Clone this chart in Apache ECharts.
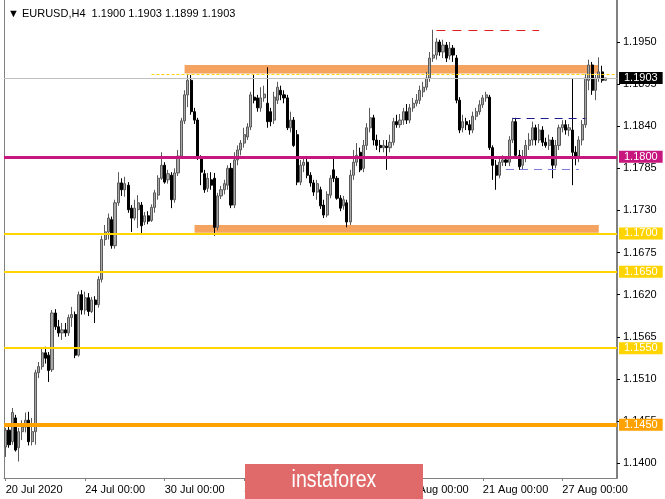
<!DOCTYPE html>
<html>
<head>
<meta charset="utf-8">
<script src="https://cdn.jsdelivr.net/npm/echarts@6/dist/echarts.min.js"></script>
<style>
  html, body { margin: 0; padding: 0; background: #fff; }
  #main { width: 665px; height: 499px; }
</style>
</head>
<body>
<div id="main"></div>
<script>
// EURUSD H4, 20 Jul - 28 Aug 2020
const opens = [
  1.1421,1.1443,1.1428,1.1459,1.1420,1.1441,1.1447,1.1456,1.1428,1.1441,
  1.1518,1.1526,1.1544,1.1541,1.1522,1.1596,1.1578,1.1570,1.1574,1.1570,
  1.1590,1.1594,1.1541,1.1620,1.1600,1.1616,1.1598,1.1613,1.1607,1.1640,
  1.1692,1.1702,1.1718,1.1684,1.1740,1.1766,1.1757,1.1763,1.1733,1.1720,
  1.1731,1.1737,1.1715,1.1723,1.1717,1.1734,1.1750,1.1772,1.1789,1.1770,
  1.1776,1.1744,1.1779,1.1801,1.1847,1.1881,1.1900,1.1859,1.1848,1.1800,
  1.1778,1.1759,1.1770,1.1772,1.1708,1.1749,1.1757,1.1763,1.1785,1.1737,
  1.1796,1.1809,1.1818,1.1826,1.1839,1.1878,1.1877,1.1864,1.1877,1.1870,
  1.1859,1.1848,1.1874,1.1887,1.1881,1.1877,1.1838,1.1848,1.1829,1.1767,
  1.1789,1.1793,1.1776,1.1766,1.1754,1.1757,1.1737,1.1724,1.1750,1.1783,
  1.1772,1.1746,1.1736,1.1740,1.1715,1.1776,1.1793,1.1806,1.1785,1.1815,
  1.1838,1.1851,1.1822,1.1815,1.1812,1.1814,1.1812,1.1819,1.1846,1.1842,
  1.1848,1.1859,1.1848,1.1864,1.1870,1.1874,1.1885,1.1891,1.1903,1.1929,
  1.1933,1.1950,1.1937,1.1946,1.1932,1.1942,1.1929,1.1874,1.1838,1.1846,
  1.1842,1.1835,1.1853,1.1859,1.1868,1.1877,1.1878,1.1812,1.1789,1.1776,
  1.1793,1.1796,1.1793,1.1822,1.1846,1.1802,1.1789,1.1798,1.1815,1.1822,
  1.1838,1.1822,1.1835,1.1819,1.1815,1.1822,1.1789,1.1815,1.1838,1.1842,
  1.1835,1.1835,1.1806,1.1798,1.1822,1.1842,1.1900,1.1920,1.1887,1.1903,
  1.1911,1.1900
];
const closes = [
  1.1443,1.1424,1.1466,1.1417,1.1441,1.1447,1.1456,1.1428,1.1441,1.1518,
  1.1526,1.1544,1.1537,1.1521,1.1596,1.1578,1.1570,1.1574,1.1570,1.1590,
  1.1594,1.1541,1.1620,1.1600,1.1616,1.1598,1.1613,1.1607,1.1640,1.1692,
  1.1702,1.1720,1.1684,1.1740,1.1766,1.1757,1.1765,1.1731,1.1720,1.1733,
  1.1740,1.1710,1.1723,1.1716,1.1734,1.1753,1.1772,1.1789,1.1767,1.1778,
  1.1744,1.1779,1.1801,1.1847,1.1881,1.1900,1.1859,1.1848,1.1800,1.1780,
  1.1757,1.1772,1.1763,1.1708,1.1749,1.1757,1.1765,1.1785,1.1737,1.1796,
  1.1809,1.1818,1.1829,1.1839,1.1881,1.1874,1.1864,1.1877,1.1882,1.1846,
  1.1846,1.1878,1.1891,1.1881,1.1877,1.1838,1.1848,1.1815,1.1767,1.1789,
  1.1793,1.1776,1.1766,1.1754,1.1765,1.1736,1.1724,1.1751,1.1772,1.1772,
  1.1746,1.1733,1.1744,1.1715,1.1776,1.1793,1.1802,1.1783,1.1815,1.1838,
  1.1851,1.1822,1.1815,1.1812,1.1815,1.1812,1.1819,1.1846,1.1842,1.1848,
  1.1859,1.1848,1.1864,1.1870,1.1874,1.1887,1.1891,1.1903,1.1929,1.1933,
  1.1950,1.1937,1.1946,1.1929,1.1942,1.1933,1.1874,1.1835,1.1846,1.1842,
  1.1835,1.1853,1.1859,1.1868,1.1877,1.1881,1.1812,1.1789,1.1776,1.1793,
  1.1796,1.1793,1.1822,1.1846,1.1802,1.1787,1.1798,1.1815,1.1822,1.1838,
  1.1822,1.1835,1.1819,1.1815,1.1822,1.1789,1.1815,1.1838,1.1842,1.1835,
  1.1838,1.1806,1.1798,1.1822,1.1842,1.1903,1.1920,1.1887,1.1903,1.1911,
  1.1900,1.1903
];
const lows = [
  1.1408,1.1420,1.1424,1.1415,1.1402,1.1430,1.1440,1.1423,1.1423,1.1424,
  1.1511,1.1522,1.1530,1.1506,1.1519,1.1574,1.1565,1.1561,1.1565,1.1566,
  1.1578,1.1537,1.1539,1.1594,1.1594,1.1592,1.1596,1.1583,1.1603,1.1636,
  1.1684,1.1692,1.1680,1.1680,1.1736,1.1749,1.1748,1.1727,1.1702,1.1717,
  1.1707,1.1700,1.1711,1.1712,1.1715,1.1727,1.1744,1.1770,1.1765,1.1765,
  1.1733,1.1740,1.1775,1.1798,1.1843,1.1865,1.1855,1.1843,1.1796,1.1763,
  1.1753,1.1754,1.1757,1.1697,1.1704,1.1745,1.1751,1.1757,1.1733,1.1733,
  1.1789,1.1802,1.1812,1.1822,1.1835,1.1870,1.1859,1.1859,1.1872,1.1838,
  1.1840,1.1843,1.1869,1.1874,1.1870,1.1835,1.1832,1.1813,1.1763,1.1763,
  1.1780,1.1772,1.1761,1.1749,1.1744,1.1732,1.1720,1.1721,1.1746,1.1767,
  1.1744,1.1729,1.1731,1.1708,1.1711,1.1770,1.1788,1.1780,1.1780,1.1809,
  1.1832,1.1815,1.1809,1.1806,1.1806,1.1783,1.1806,1.1815,1.1838,1.1838,
  1.1842,1.1843,1.1844,1.1859,1.1866,1.1869,1.1878,1.1887,1.1898,1.1924,
  1.1927,1.1932,1.1929,1.1924,1.1927,1.1924,1.1870,1.1831,1.1832,1.1835,
  1.1829,1.1831,1.1848,1.1855,1.1864,1.1872,1.1809,1.1770,1.1757,1.1772,
  1.1788,1.1788,1.1788,1.1818,1.1798,1.1783,1.1784,1.1793,1.1809,1.1815,
  1.1815,1.1818,1.1814,1.1812,1.1809,1.1772,1.1785,1.1809,1.1832,1.1829,
  1.1827,1.1763,1.1789,1.1793,1.1815,1.1838,1.1887,1.1881,1.1874,1.1898,
  1.1897,1.1899
];
const highs = [
  1.1446,1.1450,1.1472,1.1463,1.1446,1.1456,1.1466,1.1467,1.1459,1.1522,
  1.1532,1.1550,1.1552,1.1545,1.1600,1.1601,1.1587,1.1583,1.1583,1.1594,
  1.1604,1.1598,1.1624,1.1626,1.1624,1.1622,1.1617,1.1618,1.1644,1.1697,
  1.1711,1.1726,1.1722,1.1744,1.1780,1.1772,1.1774,1.1767,1.1737,1.1744,
  1.1750,1.1741,1.1728,1.1729,1.1738,1.1757,1.1776,1.1806,1.1793,1.1783,
  1.1780,1.1785,1.1809,1.1851,1.1887,1.1908,1.1907,1.1864,1.1851,1.1802,
  1.1783,1.1779,1.1780,1.1779,1.1753,1.1762,1.1770,1.1789,1.1792,1.1806,
  1.1815,1.1822,1.1838,1.1844,1.1885,1.1907,1.1881,1.1891,1.1893,1.1917,
  1.1864,1.1885,1.1898,1.1893,1.1887,1.1881,1.1859,1.1852,1.1835,1.1796,
  1.1800,1.1798,1.1780,1.1770,1.1770,1.1761,1.1744,1.1755,1.1776,1.1800,
  1.1775,1.1750,1.1749,1.1744,1.1783,1.1809,1.1818,1.1812,1.1822,1.1844,
  1.1864,1.1855,1.1829,1.1822,1.1822,1.1822,1.1829,1.1851,1.1855,1.1856,
  1.1864,1.1869,1.1869,1.1877,1.1882,1.1893,1.1898,1.1911,1.1937,1.1966,
  1.1955,1.1953,1.1953,1.1950,1.1950,1.1946,1.1933,1.1878,1.1855,1.1851,
  1.1848,1.1859,1.1864,1.1874,1.1881,1.1885,1.1881,1.1815,1.1796,1.1798,
  1.1802,1.1801,1.1827,1.1851,1.1851,1.1809,1.1809,1.1822,1.1831,1.1846,
  1.1842,1.1843,1.1840,1.1825,1.1829,1.1826,1.1822,1.1842,1.1848,1.1848,
  1.1843,1.1903,1.1814,1.1827,1.1848,1.1908,1.1927,1.1924,1.1907,1.1930,
  1.1919,1.1903
];

// time axis: 182 bars plus a few empty slots (chart shift)
const slotCount = 185;
const dateTickIdx = [0, 24, 48, 72, 96, 120, 144, 168];
const dateTickLabels = ['20 Jul 2020', '24 Jul 00:00', '30 Jul 00:00', '5 Aug 00:00',
  '11 Aug 00:00', '17 Aug 00:00', '21 Aug 00:00', '27 Aug 00:00'];
const priceTicks = [1.1400, 1.1455, 1.1510, 1.1565, 1.1620, 1.1675, 1.1730, 1.1785, 1.1840, 1.1895, 1.1950];

// drawn objects
const lastPrice = 1.1903;
const levels = [1.1800, 1.1700, 1.1650, 1.1550, 1.1450];
const upperBand = [1.1920, 1.1909];
const lowerBand = [1.1711, 1.1701];
const upperBandBars = [54, 179];
const lowerBandBars = [57, 179];
const dottedTop = 1.1908;
const redLevel = 1.1966;
const boxTop = 1.1851;
const boxBottom = 1.1784;

const categories = [];
for (let i = 0; i < slotCount; i++) categories.push(String(i));
const labelAt = {};
dateTickIdx.forEach((k, j) => { labelAt[k] = dateTickLabels[j]; });

const candles = opens.map((o, i) => [o, closes[i], lows[i], highs[i]]);

const FONT = 'Liberation Sans';
const levelColors = ['#c8167f', '#ffd400', '#ffd400', '#ffd400', '#ffa200'];
const levelWidths = [3, 2, 2, 2, 4];

function levelLine(v, color, width, lineColor) {
  return {
    yAxis: v,
    lineStyle: { color: lineColor || color, width: width, type: 'solid' },
    label: {
      show: true, position: 'end', distance: 2,
      formatter: v.toFixed(4),
      color: '#fff', backgroundColor: color,
      padding: [1, 5, 0, 5], fontSize: 11, fontFamily: FONT
    }
  };
}
function segment(x0, x1, v, color, type) {
  return [
    { coord: [x0, v], lineStyle: { color: color, width: 1, type: type }, label: { show: false } },
    { coord: [x1, v] }
  ];
}

const lineData = [levelLine(lastPrice, '#000', 1, '#c0c0c0')];
levels.forEach((v, i) => lineData.push(levelLine(v, levelColors[i], levelWidths[i])));
lineData.push(segment(44, 184, dottedTop, '#ffd400', [3, 2]));
lineData.push(segment(130, 161, redLevel, '#e02020', [9, 7]));
lineData.push(segment(153, 175, boxTop, '#1c1c8c', [8, 6]));
lineData.push(segment(151, 173, boxBottom, '#7c7cdc', [8, 6]));

let myChart = echarts.init(document.getElementById('main'));
myChart.setOption({
  animation: false,
  title: {
    text: '▼ EURUSD,H4  1.1900 1.1903 1.1899 1.1903',
    left: 3, top: 3,
    textStyle: { fontSize: 11, fontWeight: 'normal', color: '#000', fontFamily: FONT }
  },
  grid: { left: 4, right: 48, top: 0, bottom: 21, show: false },
  xAxis: {
    type: 'category',
    data: categories,
    boundaryGap: true,
    axisLine: { lineStyle: { color: '#808080', width: 1 } },
    axisTick: {
      show: true, length: 3, alignWithLabel: true,
      interval: (i) => labelAt[i] !== undefined,
      lineStyle: { color: '#808080' }
    },
    axisLabel: {
      interval: (i) => labelAt[i] !== undefined,
      formatter: (v, i) => labelAt[i] || '',
      align: 'left', margin: 6,
      fontSize: 11, color: '#000', fontFamily: FONT
    },
    splitLine: { show: false }
  },
  yAxis: [
    {
      type: 'value',
      position: 'right',
      min: 1.13805, max: 1.20049,
      axisLine: { show: true, lineStyle: { color: '#808080', width: 2 } },
      axisTick: { show: true, length: 3, customValues: priceTicks, lineStyle: { color: '#000' } },
      axisLabel: {
        customValues: priceTicks,
        formatter: (v) => v.toFixed(4),
        margin: 6, fontSize: 11, color: '#000', fontFamily: FONT
      },
      splitLine: { show: false }
    },
    {
      type: 'value',
      position: 'left',
      min: 1.13805, max: 1.20049,
      axisLine: { show: true, lineStyle: { color: '#808080', width: 1 } },
      axisTick: { show: false },
      axisLabel: { show: false },
      splitLine: { show: false }
    }
  ],
  series: [{
    type: 'candlestick',
    data: candles,
    barWidth: 2.6,
    itemStyle: {
      color: '#a8a8a8', borderColor: '#5a5a5a',
      color0: '#000', borderColor0: '#000',
      borderWidth: 1
    },
    emphasis: { disabled: true },
    markArea: {
      silent: true,
      itemStyle: { color: '#f4a460', opacity: 1 },
      data: [
        [{ xAxis: upperBandBars[0], yAxis: upperBand[0] }, { xAxis: upperBandBars[1], yAxis: upperBand[1] }],
        [{ xAxis: lowerBandBars[0], yAxis: lowerBand[0] }, { xAxis: lowerBandBars[1], yAxis: lowerBand[1] }]
      ]
    },
    markLine: {
      silent: true,
      symbol: ['none', 'none'],
      precision: 4,
      data: lineData
    }
  }],
  graphic: [
    {
      type: 'rect', z: 100,
      shape: { x: 245, y: 464, width: 178, height: 35 },
      style: { fill: '#e06a6a' }
    },
    {
      type: 'text', z: 101,
      x: 334, y: 481, scaleX: 0.85, originX: 0,
      style: {
        text: 'instaforex', fill: '#fff',
        font: '23px "Liberation Sans"',
        textAlign: 'center', textVerticalAlign: 'middle'
      }
    }
  ]
});
window.addEventListener('resize', () => {
  myChart.resize();
});
</script>
</body>
</html>
